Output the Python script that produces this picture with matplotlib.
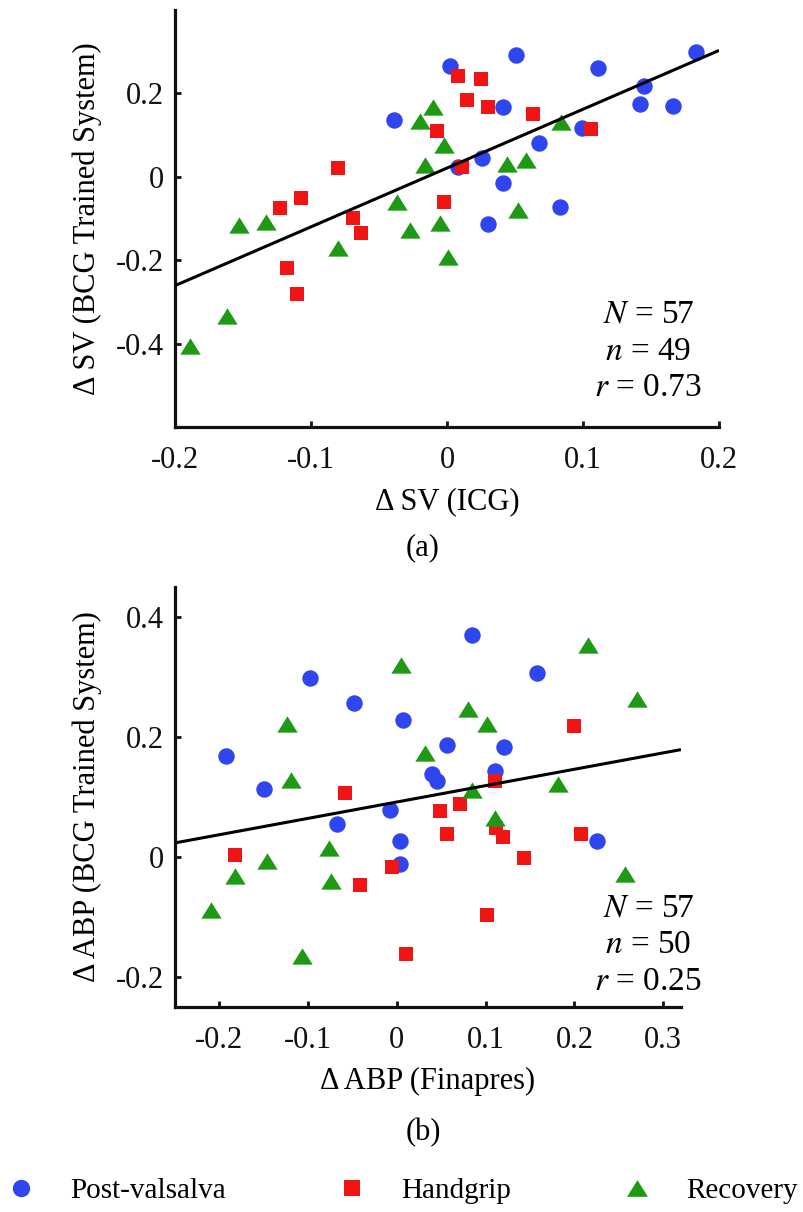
import numpy as np
import matplotlib
matplotlib.use('Agg')
import matplotlib.pyplot as plt
from matplotlib.lines import Line2D

plt.rcParams['font.family'] = ['Liberation Serif', 'DejaVu Serif']
plt.rcParams['mathtext.fontset'] = 'stix'
plt.rcParams['axes.unicode_minus'] = False

# ---- panel (a): delta SV ----
a_post_x = [0.002, 0.051, 0.111, -0.039, 0.041, 0.099, 0.068, 0.026, 0.008, 0.041,
            0.083, 0.030, 0.183, 0.145, 0.142, 0.166]
a_post_y = [0.266, 0.292, 0.262, 0.137, 0.167, 0.117, 0.081, 0.045, 0.024, -0.014,
            -0.073, -0.113, 0.299, 0.218, 0.175, 0.169]
a_grip_x = [0.008, 0.025, 0.015, 0.030, 0.063, 0.106, -0.007, 0.011, -0.080, -0.107,
            -0.123, -0.002, -0.069, -0.063, -0.118, -0.110]
a_grip_y = [0.242, 0.235, 0.184, 0.168, 0.151, 0.114, 0.111, 0.023, 0.021, -0.051,
            -0.075, -0.060, -0.100, -0.134, -0.218, -0.280]
a_rec_x = [-0.010, -0.020, -0.002, 0.084, -0.016, 0.044, 0.058, -0.037, 0.052, -0.005,
           -0.027, -0.153, -0.133, -0.080, 0.001, -0.162, -0.189]
a_rec_y = [0.168, 0.134, 0.077, 0.131, 0.028, 0.030, 0.041, -0.060, -0.079, -0.111,
           -0.128, -0.115, -0.109, -0.171, -0.192, -0.333, -0.406]
a_fit_x = [-0.2, 0.2]
a_fit_y = [-0.261, 0.303]
a_stats = [r'$N$ = 57', r'$n$ = 49', r'$r$ = 0.73']

# ---- panel (b): delta ABP ----
b_post_x = [0.085, -0.098, 0.158, -0.048, 0.007, -0.192, 0.056, 0.121, -0.150, 0.039,
            0.045, 0.110, -0.008, -0.067, 0.003, 0.003, 0.225]
b_post_y = [0.370, 0.299, 0.307, 0.257, 0.228, 0.169, 0.187, 0.183, 0.113, 0.138,
            0.126, 0.143, 0.078, 0.055, 0.027, -0.011, 0.027]
b_grip_x = [0.199, -0.058, 0.111, 0.048, 0.071, 0.056, 0.112, 0.119, 0.207, -0.182,
            0.143, -0.005, -0.042, 0.102, 0.010]
b_grip_y = [0.218, 0.107, 0.126, 0.076, 0.088, 0.038, 0.048, 0.034, 0.038, 0.003,
            -0.002, -0.016, -0.046, -0.097, -0.161]
b_rec_x = [0.215, 0.005, 0.270, 0.080, 0.102, -0.124, 0.032, -0.119, 0.182, 0.085,
           0.111, -0.077, -0.146, -0.182, -0.074, 0.257, -0.209, -0.107]
b_rec_y = [0.354, 0.320, 0.264, 0.247, 0.221, 0.221, 0.174, 0.128, 0.121, 0.111,
           0.065, 0.015, -0.006, -0.032, -0.040, -0.028, -0.089, -0.165]
b_fit_x = [-0.25, 0.32]
b_fit_y = [0.0235, 0.179]
b_stats = [r'$N$ = 57', r'$n$ = 50', r'$r$ = 0.25']

groups = ['Post-valsalva', 'Handgrip', 'Recovery']
colors = ['#2f45f0', '#f01414', '#1e9914']
tri = [(0, 0.8), (-1, -0.8), (1, -0.8)]
markers = ['o', 's', tri]
sizes = [140, 98, 215]
leg_sizes = [12.5, 11, 15]

FS = 22

fig = plt.figure(figsize=(8.04, 12.12), dpi=100)
W, H = 804, 1212


def box(l, r, t, b):
    return [l / W, 1 - b / H, (r - l) / W, (b - t) / H]


def panel(ax, pts, fit_x, fit_y, xlim, ylim, xt, xtl, yt, ytl, xlab, ylab, stats, sx, sy):
    for (x, y), c, m, s in zip(pts, colors, markers, sizes):
        ax.scatter(x, y, c=c, marker=m, s=s, linewidths=0, zorder=2)
    ax.plot(fit_x, fit_y, color='black', lw=2.2, zorder=3, solid_capstyle='butt')
    ax.set_xlim(xlim)
    ax.set_ylim(ylim)
    ax.set_xticks(xt)
    ax.set_xticklabels(xtl)
    ax.set_yticks(yt)
    ax.set_yticklabels(ytl)
    for s in ['top', 'right']:
        ax.spines[s].set_visible(False)
    for s in ['left', 'bottom']:
        ax.spines[s].set_linewidth(2.3)
        ax.spines[s].set_color('#111111')
    ax.tick_params(direction='in', length=4, width=2, labelsize=FS, colors='#111111')
    ax.tick_params(axis='x', pad=13.5)
    ax.tick_params(axis='y', pad=8)
    ax.set_xlabel(xlab, fontsize=FS, labelpad=9)
    ax.set_ylabel(ylab, fontsize=FS, labelpad=10)
    for i, t in enumerate(stats):
        ax.text(sx, sy[i], t, transform=ax.transAxes, ha='center', va='center', fontsize=24)


ax1 = fig.add_axes(box(175, 719, 10, 427))
panel(ax1, [(a_post_x, a_post_y), (a_grip_x, a_grip_y), (a_rec_x, a_rec_y)],
      a_fit_x, a_fit_y, (-0.2, 0.2), (-0.6, 0.4),
      [-0.2, -0.1, 0, 0.1, 0.2], ['-0.2', '-0.1', '0', '0.1', '0.2'],
      [-0.4, -0.2, 0, 0.2], ['-0.4', '-0.2', '0', '0.2'],
      '\u0394 SV (ICG)', '\u0394 SV (BCG Trained System)',
      a_stats, 0.87, [0.271, 0.18, 0.094])
fig.text(423 / W, 1 - 548 / H, '(a)', ha='center', va='center', fontsize=FS)

ax2 = fig.add_axes(box(175, 681, 587, 1007))
panel(ax2, [(b_post_x, b_post_y), (b_grip_x, b_grip_y), (b_rec_x, b_rec_y)],
      b_fit_x, b_fit_y, (-0.25, 0.32), (-0.25, 0.45),
      [-0.2, -0.1, 0, 0.1, 0.2, 0.3], ['-0.2', '-0.1', '0', '0.1', '0.2', '0.3'],
      [-0.2, 0, 0.2, 0.4], ['-0.2', '0', '0.2', '0.4'],
      '\u0394 ABP (Finapres)', '\u0394 ABP (BCG Trained System)',
      b_stats, 0.935, [0.236, 0.148, 0.06])
fig.text(423 / W, 1 - 1133 / H, '(b)', ha='center', va='center', fontsize=FS)

handles = [Line2D([], [], ls='', marker=m, color=c, markersize=ms, markeredgewidth=0)
           for m, c, ms in zip(markers, colors, leg_sizes)]
fig.legend(handles, groups, loc='center left', bbox_to_anchor=(6 / W, 1 - 1191 / H),
           ncol=3, frameon=False, fontsize=21, handlelength=1.0, handletextpad=1.21,
           columnspacing=3.8, borderpad=0, borderaxespad=0)

fig.savefig('out.png', dpi=100)
